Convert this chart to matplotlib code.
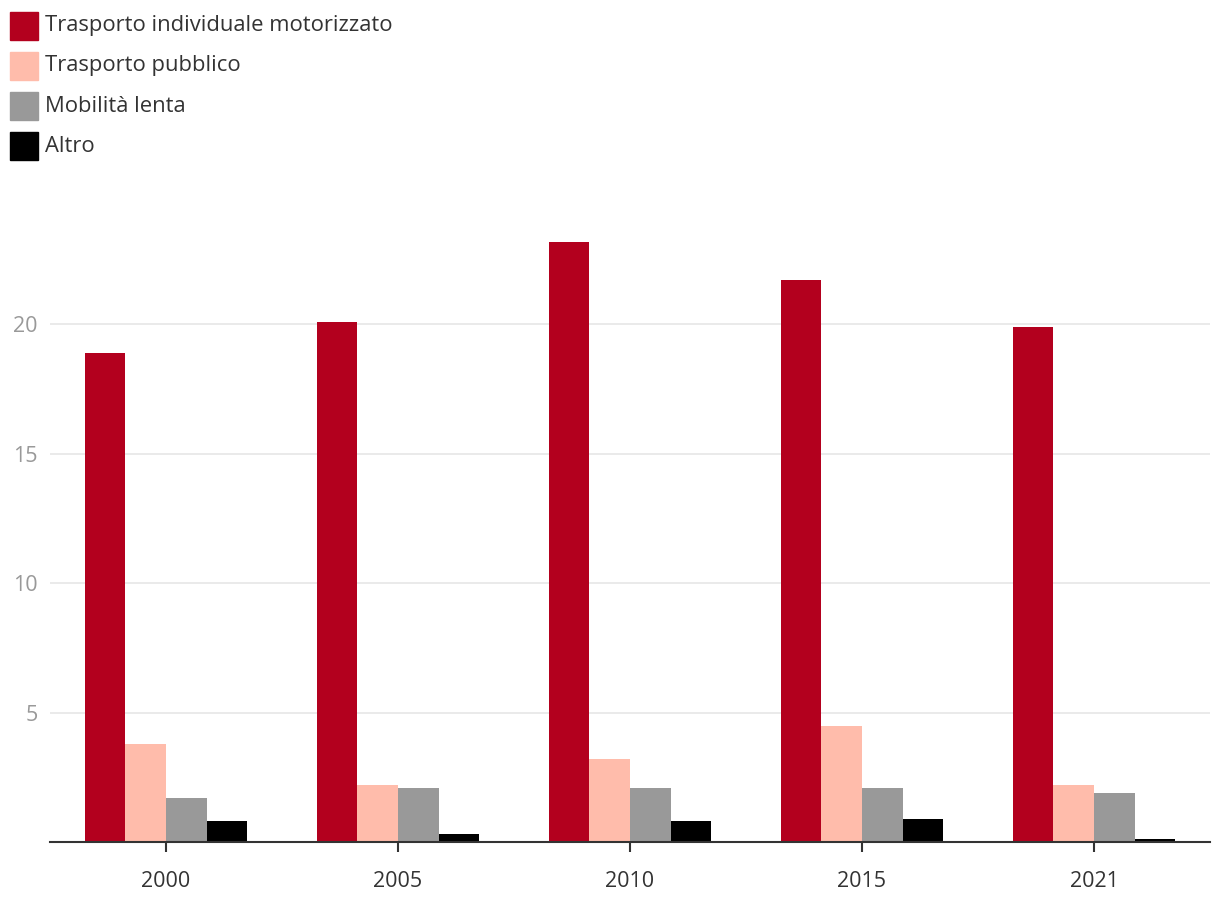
import matplotlib.pyplot as plt
import matplotlib.patches as mpatches
import numpy as np

plt.rcParams['font.family'] = ['Open Sans', 'DejaVu Sans']

years = ['2000', '2005', '2010', '2015', '2021']
series_names = ['Trasporto individuale motorizzato', 'Trasporto pubblico', 'Mobilità lenta', 'Altro']
motorizzato = [18.9, 20.1, 23.2, 21.7, 19.9]
pubblico = [3.8, 2.2, 3.2, 4.5, 2.2]
lenta = [1.7, 2.1, 2.1, 2.1, 1.9]
altro = [0.8, 0.3, 0.8, 0.9, 0.1]
colors = ['#b3001e', '#ffbcab', '#999999', '#000000']

W, H = 1220, 910
fig = plt.figure(figsize=(W / 100, H / 100), dpi=100)
ax = fig.add_axes([50 / W, (H - 842) / H, 1160 / W, (842 - 195) / H])

x = np.arange(len(years))
bw = 0.7 / 4
for i, vals in enumerate([motorizzato, pubblico, lenta, altro]):
    ax.bar(x - 0.35 + bw * (i + 0.5), vals, width=bw, color=colors[i], zorder=2)

ax.set_xlim(-0.5, len(years) - 0.5)
ax.set_ylim(0, 25)
ax.set_yticks([5, 10, 15, 20])
ax.set_xticks(x)
ax.set_xticklabels(years)
ax.grid(axis='y', color='#e6e6e6', linewidth=1.2, zorder=0)
for s in ['top', 'right', 'left']:
    ax.spines[s].set_visible(False)
ax.spines['bottom'].set_color('#333333')
ax.spines['bottom'].set_linewidth(1.5)
ax.tick_params(axis='y', length=0, labelsize=15.5, labelcolor='#999999', pad=9)
ax.tick_params(axis='x', length=7, width=1.5, color='#333333', labelsize=15.5,
               labelcolor='#333333', pad=14)

# legenda in alto a sinistra
for i, name in enumerate(series_names):
    cy = 26 + 40 * i
    fig.patches.append(mpatches.Rectangle((10 / W, (H - cy - 14) / H), 28 / W, 28 / H,
                                          transform=fig.transFigure, color=colors[i]))
    fig.text(45 / W, (H - cy) / H, name, fontsize=15.8, color='#333333', va='center')

fig.savefig('out.png', dpi=100)
